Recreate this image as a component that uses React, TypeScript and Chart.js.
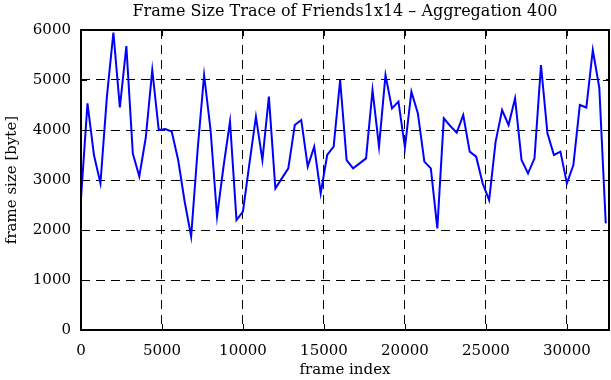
import React, { useEffect, useRef } from "react";
import { Chart, registerables } from "chart.js";

Chart.register(...registerables);

const TITLE = "Frame Size Trace of Friends1x14 \u2013 Aggregation 400";
const X_LABEL = "frame index";
const Y_LABEL = "frame size [byte]";

const frameIndex = [
  0, 400, 800, 1200, 1600, 2000, 2400, 2800, 3200, 3600,
  4000, 4400, 4800, 5200, 5600, 6000, 6400, 6800, 7200, 7600,
  8000, 8400, 8800, 9200, 9600, 10000, 10400, 10800, 11200, 11600,
  12000, 12400, 12800, 13200, 13600, 14000, 14400, 14800, 15200, 15600,
  16000, 16400, 16800, 17200, 17600, 18000, 18400, 18800, 19200, 19600,
  20000, 20400, 20800, 21200, 21600, 22000, 22400, 22800, 23200, 23600,
  24000, 24400, 24800, 25200, 25600, 26000, 26400, 26800, 27200, 27600,
  28000, 28400, 28800, 29200, 29600, 30000, 30400, 30800, 31200, 31600,
  32000, 32400,
];

const frameSize = [
  2633, 4533, 3500, 2933, 4667, 5950, 4450, 5680, 3530, 3070,
  3850, 5200, 4000, 4020, 3970, 3400, 2570, 1870, 3600, 5100,
  4000, 2270, 3270, 4170, 2200, 2370, 3333, 4267, 3400, 4667,
  2833, 3033, 3233, 4100, 4200, 3267, 3667, 2733, 3500, 3667,
  5000, 3400, 3233, 3333, 3433, 4800, 3667, 5100, 4433, 4567,
  3650, 4767, 4333, 3367, 3233, 2033, 4233, 4080, 3947, 4300,
  3567, 3467, 2933, 2600, 3767, 4400, 4100, 4633, 3400, 3133,
  3433, 5300, 3933, 3500, 3567, 2933, 3300, 4500, 4450, 5600,
  4850, 2133,
];

const X_MIN = 0;
const X_MAX = 32600;
const X_STEP = 5000;
const Y_MIN = 0;
const Y_MAX = 6000;
const Y_STEP = 1000;

const FONT_FAMILY = "'DejaVu Serif', 'Liberation Serif', serif";

const framePlugin = {
  id: "gnuplotFrame",
  afterDatasetsDraw(chart: any) {
    const { ctx, chartArea } = chart;
    const { left, right, top, bottom } = chartArea;
    const xs = chart.scales.x;
    const ys = chart.scales.y;
    const tick = 6;
    ctx.save();
    ctx.strokeStyle = "#000";
    ctx.lineWidth = 1;
    ctx.setLineDash([]);
    ctx.beginPath();
    xs.ticks.forEach((t: any) => {
      const px = Math.round(xs.getPixelForValue(t.value)) + 0.5;
      ctx.moveTo(px, bottom);
      ctx.lineTo(px, bottom - tick);
      ctx.moveTo(px, top);
      ctx.lineTo(px, top + tick);
    });
    ys.ticks.forEach((t: any) => {
      const py = Math.round(ys.getPixelForValue(t.value)) + 0.5;
      ctx.moveTo(left, py);
      ctx.lineTo(left + tick, py);
      ctx.moveTo(right, py);
      ctx.lineTo(right - tick, py);
    });
    ctx.stroke();
    ctx.lineWidth = 2;
    ctx.strokeRect(left, top, right - left, bottom - top);
    ctx.restore();
  },
};

export default function App() {
  const ref = useRef<HTMLCanvasElement | null>(null);

  useEffect(() => {
    document.body.style.margin = "0";
    const canvas = ref.current;
    if (!canvas) return;
    const chart = new Chart(canvas, {
      type: "line",
      data: {
        datasets: [
          {
            label: "frame size",
            data: frameIndex.map((x, i) => ({ x, y: frameSize[i] })),
            borderColor: "#0000ff",
            borderWidth: 2,
            pointRadius: 0,
            tension: 0,
            fill: false,
          },
        ],
      },
      options: {
        responsive: false,
        animation: false,
        events: [],
        layout: { padding: { left: 0, right: 2, top: 0, bottom: 0 } },
        plugins: {
          legend: { display: false },
          tooltip: { enabled: false },
          title: {
            display: true,
            text: TITLE,
            fullSize: false,
            color: "#000",
            font: { family: FONT_FAMILY, size: 16, weight: "normal", lineHeight: 1.25 },
            padding: { top: 2, bottom: 8 },
          },
        },
        scales: {
          x: {
            type: "linear",
            min: X_MIN,
            max: X_MAX,
            afterFit: (s: any) => {
              s.height = 50;
            },
            afterBuildTicks: (s: any) => {
              const arr = [];
              for (let v = X_MIN; v <= X_MAX; v += X_STEP) arr.push({ value: v });
              s.ticks = arr;
            },
            ticks: {
              color: "#000",
              font: { family: FONT_FAMILY, size: 15 },
              padding: 12,
              maxRotation: 0,
              autoSkip: false,
              callback: (v: any) => String(v),
            },
            grid: {
              color: "#000",
              lineWidth: 1,
              drawTicks: false,
            },
            border: { display: false, dash: [9, 6] },
            title: {
              display: true,
              text: X_LABEL,
              color: "#000",
              font: { family: FONT_FAMILY, size: 15 },
              padding: { top: 0, bottom: 1 },
            },
          },
          y: {
            type: "linear",
            min: Y_MIN,
            max: Y_MAX,
            afterFit: (s: any) => {
              s.width = 81;
            },
            ticks: {
              stepSize: Y_STEP,
              color: "#000",
              font: { family: FONT_FAMILY, size: 15 },
              padding: 10,
              callback: (v: any) => String(v),
            },
            grid: {
              color: "#000",
              lineWidth: 1,
              drawTicks: false,
            },
            border: { display: false, dash: [9, 6] },
            title: {
              display: true,
              text: Y_LABEL,
              color: "#000",
              font: { family: FONT_FAMILY, size: 15 },
              padding: { top: 3, bottom: 0 },
            },
          },
        },
      },
      plugins: [framePlugin],
    });
    return () => chart.destroy();
  }, []);

  return (
    <div style={{ width: 611, height: 380 }}>
      <canvas ref={ref} width={611} height={380} style={{ display: "block" }} />
    </div>
  );
}
